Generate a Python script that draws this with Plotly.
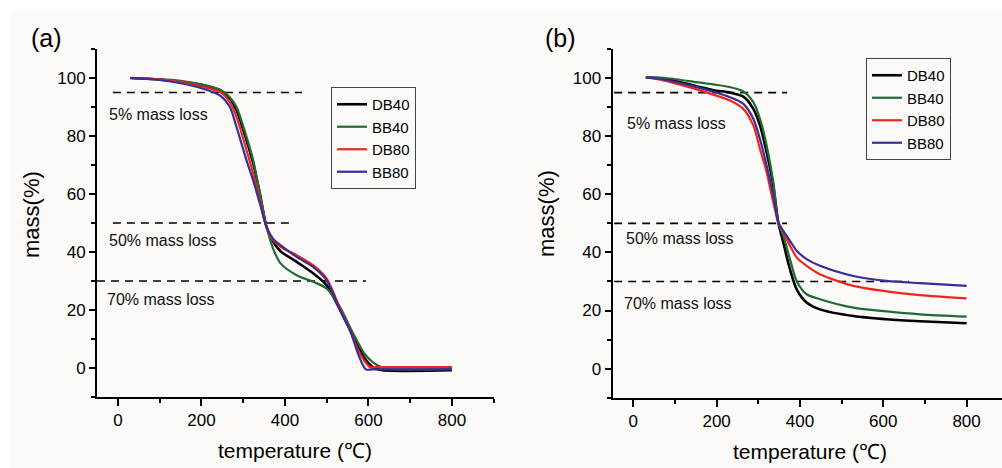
import plotly.graph_objects as go

# ---------------- data ----------------
series_names = ["DB40", "BB40", "DB80", "BB80"]
series_colors = ["#000000", "#226b35", "#f0261c", "#3b2d96"]

# panel (a)
a_T_DB40 = [30, 100, 150, 200, 244, 268, 284, 308, 324, 340, 356, 372, 390, 428, 468, 500, 532, 556, 572, 590, 610, 630, 800]
a_m_DB40 = [100, 99.5, 98.7, 97.6, 95.8, 92.9, 88.9, 78.5, 70.5, 60.1, 48.6, 43.5, 40.2, 36.6, 32.6, 28.5, 20, 13, 8.4, 3.5, 0.3, -0.7, -0.8]
a_T_BB40 = [30, 100, 150, 200, 244, 268, 284, 308, 324, 340, 356, 372, 390, 428, 468, 500, 532, 556, 572, 590, 610, 630, 645, 800]
a_m_BB40 = [100, 99.6, 99, 97.8, 96, 93.4, 90, 79.7, 71.6, 60.1, 48.6, 41, 36, 32, 29.7, 27.4, 21, 14, 9.6, 5, 2, 0.3, -0.3, -0.3]
a_T_DB80 = [30, 100, 150, 204, 244, 268, 284, 308, 324, 340, 356, 372, 390, 428, 468, 500, 532, 556, 572, 590, 604, 620, 800]
a_m_DB80 = [100, 99.5, 98.6, 96.9, 95.2, 91.7, 86.6, 75.1, 67, 57.8, 48.6, 44, 41.7, 38.9, 35.4, 30.8, 20.5, 13, 7.2, 2.5, 0.3, 0.3, 0.3]
a_T_BB80 = [30, 100, 150, 204, 244, 268, 284, 308, 324, 340, 356, 372, 390, 428, 468, 500, 532, 556, 572, 585, 594, 610, 800]
a_m_BB80 = [100, 99.3, 98.2, 96.3, 94, 90, 83.1, 71.6, 64.7, 56.7, 48.6, 44.5, 42.3, 38.3, 34.8, 30.2, 19.9, 13, 6.1, 1.5, -0.5, -0.5, -0.5]

# panel (b)
b_T = [30, 72, 152, 192, 232, 264, 288, 304, 320, 336, 348, 360, 376, 392, 416, 448, 528, 608, 688, 800]
b_m_DB40 = [100.2, 99.8, 97.2, 95.8, 95.0, 93.6, 89.4, 83.7, 74.5, 63, 50.3, 43.4, 34.2, 27.3, 22.8, 20.4, 18.1, 17, 16.3, 15.6]
b_m_BB40 = [100.2, 100.1, 98.6, 97.8, 96.9, 95.4, 91.7, 86, 76.8, 64.1, 50.3, 45.7, 37.7, 30.2, 25.6, 23.9, 21, 19.7, 18.7, 17.9]
b_m_DB80 = [100.2, 99.2, 96.1, 94.3, 92.3, 89.4, 83.7, 75.6, 67.6, 57.2, 50.3, 46.9, 42.3, 38.3, 35.4, 32.5, 28.5, 26.6, 25.3, 24.2]
b_m_BB80 = [100.2, 99.5, 96.9, 95.3, 93.4, 91.1, 86, 79, 69.9, 59.5, 50.3, 47.4, 44, 40.6, 37.7, 35.4, 31.9, 30.2, 29.4, 28.5]

# reference (mass-loss) lines
thresholds = [95, 50, 30]
loss_labels = ["5% mass loss", "50% mass loss", "70% mass loss"]
a_dash_start = [-12, -12, -50]
a_dash_end = [441, 412, 594]
b_dash_start = [-46, -46, -46]
b_dash_end = [369, 369, 662]
a_label_T = [-26, -26, -31]
a_label_m = [87.5, 43.8, 23.6]
b_label_T = [-20, -21.5, -28]
b_label_m = [84.5, 44.8, 22.5]

x_title = "temperature (℃)"
y_title = "mass(%)"

# ---------------- figure ----------------
FONT = "Liberation Sans, Arial, Helvetica, sans-serif"
BG = "#fbfaf8"
fig = go.Figure()

# dashed reference lines
for i, t in enumerate(thresholds):
    fig.add_trace(go.Scatter(x=[a_dash_start[i], a_dash_end[i]], y=[t, t], mode="lines",
                             line=dict(color="#000", width=1.6, dash="8px,6px"),
                             showlegend=False, hoverinfo="skip", xaxis="x", yaxis="y"))
    fig.add_trace(go.Scatter(x=[b_dash_start[i], b_dash_end[i]], y=[t, t], mode="lines",
                             line=dict(color="#000", width=1.6, dash="8px,6px"),
                             showlegend=False, hoverinfo="skip", xaxis="x2", yaxis="y2"))

a_data = [(a_T_DB40, a_m_DB40), (a_T_BB40, a_m_BB40), (a_T_DB80, a_m_DB80), (a_T_BB80, a_m_BB80)]
b_data = [b_m_DB40, b_m_BB40, b_m_DB80, b_m_BB80]

for i, name in enumerate(series_names):
    T, m = a_data[i]
    fig.add_trace(go.Scatter(x=T, y=m, mode="lines", name=name,
                             line=dict(color=series_colors[i], width=2.6 if i == 0 else 2.2,
                                       shape="spline", smoothing=0.8),
                             xaxis="x", yaxis="y", legend="legend"))
for i, name in enumerate(series_names):
    fig.add_trace(go.Scatter(x=b_T, y=b_data[i], mode="lines", name=name,
                             line=dict(color=series_colors[i], width=2.6 if i == 0 else 2.2,
                                       shape="spline", smoothing=0.8),
                             xaxis="x2", yaxis="y2", legend="legend2"))

xaxis_common = dict(showline=True, linewidth=2, linecolor="#000", showgrid=False, zeroline=False,
                    ticks="outside", ticklen=7, tickwidth=2, tickcolor="#000",
                    tickmode="linear", tick0=0, dtick=200,
                    minor=dict(ticks="outside", ticklen=4, tickwidth=2, tickcolor="#000", dtick=100, tick0=0, showgrid=False),
                    tickfont=dict(family=FONT, size=17, color="#000"))
yaxis_common = dict(showline=True, linewidth=2, linecolor="#000", showgrid=False, zeroline=False,
                    ticks="outside", ticklen=6, tickwidth=2, tickcolor="#000",
                    tickmode="linear", tick0=0, dtick=20, range=[-10, 110],
                    minor=dict(ticks="outside", ticklen=4, tickwidth=2, tickcolor="#000", dtick=10, tick0=0, showgrid=False),
                    tickfont=dict(family=FONT, size=17, color="#000"))

annotations = []
for i, lab in enumerate(loss_labels):
    annotations.append(dict(x=a_label_T[i], y=a_label_m[i], xref="x", yref="y", text=lab, showarrow=False,
                            xanchor="left", yanchor="middle", font=dict(family=FONT, size=16, color="#111")))
    annotations.append(dict(x=b_label_T[i], y=b_label_m[i], xref="x2", yref="y2", text=lab, showarrow=False,
                            xanchor="left", yanchor="middle", font=dict(family=FONT, size=16, color="#111")))

W, H = 1002, 468
def px(x):
    return x / W
def py(y):
    return 1 - y / H

for cx, cy in [(295, 450), (810, 451)]:
    annotations.append(dict(x=px(cx), y=py(cy), xref="paper", yref="paper", text=x_title, showarrow=False,
                            xanchor="center", yanchor="middle", font=dict(family=FONT, size=21, color="#000")))
for cx, cy in [(32, 214), (547, 214)]:
    annotations.append(dict(x=px(cx), y=py(cy), xref="paper", yref="paper", text=y_title, showarrow=False,
                            textangle=-90, xanchor="center", yanchor="middle",
                            font=dict(family=FONT, size=22, color="#000")))
for lab, cx, cy in [("(a)", 46, 38), ("(b)", 560, 38)]:
    annotations.append(dict(x=px(cx), y=py(cy), xref="paper", yref="paper", text=lab, showarrow=False,
                            xanchor="center", yanchor="middle", font=dict(family=FONT, size=25, color="#000")))

legend_common = dict(xanchor="left", yanchor="top", bordercolor="#444", borderwidth=1,
                     bgcolor="rgba(0,0,0,0)", font=dict(family=FONT, size=15, color="#000"),
                     tracegroupgap=0, itemwidth=30)

fig.update_layout(
    width=W, height=H, autosize=False,
    margin=dict(l=0, r=0, t=0, b=0),
    paper_bgcolor="#ffffff", plot_bgcolor="rgba(0,0,0,0)",
    xaxis=dict(domain=[px(97), px(493.8)], range=[-50, 900], anchor="y", **xaxis_common),
    yaxis=dict(domain=[py(397), py(49)], anchor="x", **yaxis_common),
    xaxis2=dict(domain=[px(612.5), 1.0], range=[-50, 885], anchor="y2", **xaxis_common),
    yaxis2=dict(domain=[py(397.7), py(49)], anchor="x2", **yaxis_common),
    legend=dict(x=px(331), y=py(87), **legend_common),
    legend2=dict(x=px(866), y=py(58), **legend_common),
    annotations=annotations,
    shapes=[dict(type="rect", xref="paper", yref="paper", x0=px(11), x1=1, y0=0, y1=py(10),
                 fillcolor=BG, line=dict(width=0), layer="below")],
    showlegend=True,
)

fig.write_html("out.html", config={"displayModeBar": False},
               post_script="document.body.style.margin='0';document.body.style.padding='0';document.body.style.overflow='hidden';")
